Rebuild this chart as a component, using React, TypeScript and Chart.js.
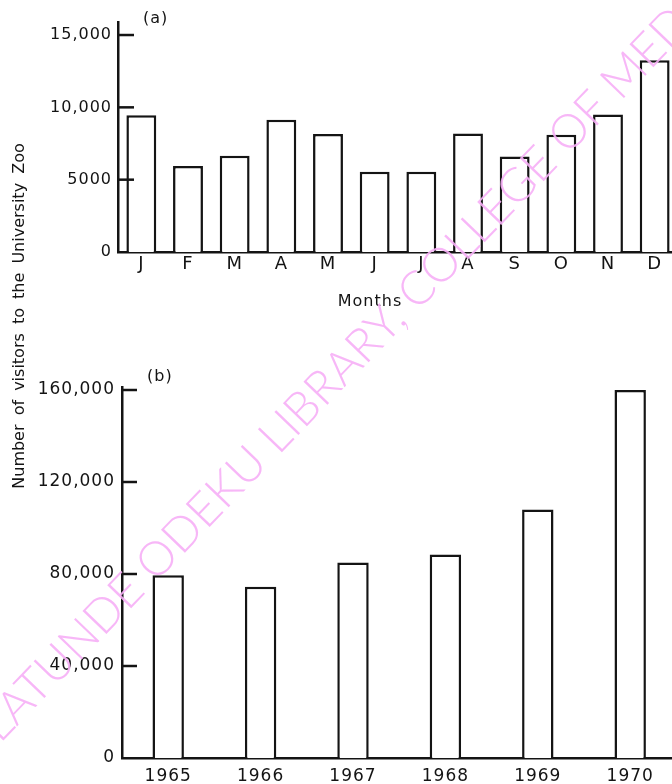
import React, { useEffect, useRef } from 'react';
import { Chart, registerables } from 'chart.js';

Chart.register(...registerables);

// ---- data ----
const months = ['J', 'F', 'M', 'A', 'M', 'J', 'J', 'A', 'S', 'O', 'N', 'D'];
const monthlyVisitors = [9450, 5950, 6650, 9150, 8150, 5550, 5550, 8200, 6600, 8100, 9500, 13250];
const monthTickValues = [0, 5000, 10000, 15000];
const monthTickLabels = ['0', '5000', '10,000', '15,000'];

const years = ['1965', '1966', '1967', '1968', '1969', '1970'];
const yearlyVisitors = [79500, 74500, 85000, 88500, 108000, 160000];
const yearTickValues = [0, 40000, 80000, 120000, 160000];
const yearTickLabels = ['0', '40,000', '80,000', '120,000', '160,000'];

const yAxisTitle = 'Number of visitors to the University Zoo';
const xAxisTitleTop = 'Months';
const panelA = '(a)';
const panelB = '(b)';
const watermark = 'LATUNDE ODEKU LIBRARY, COLLEGE OF MEDICINE';

const INK = '#141414';
const FONT = '"DejaVu Sans", sans-serif';

const decorPlugin = {
  id: 'decor',
  beforeDraw(chart: any) {
    try { chart.ctx.letterSpacing = '1px'; } catch (e) {}
  },
  afterDraw(chart: any, _args: any, opts: any) {
    const { ctx, chartArea } = chart;
    const y = chart.scales.y;
    ctx.save();
    ctx.strokeStyle = INK;
    ctx.lineWidth = 2.5;
    y.ticks.forEach((t: any) => {
      if (t.value === 0) return;
      const py = y.getPixelForValue(t.value);
      ctx.beginPath();
      ctx.moveTo(chartArea.left, py);
      ctx.lineTo(chartArea.left + opts.len, py);
      ctx.stroke();
    });
    (opts.texts || []).forEach((tx: any) => {
      ctx.font = tx.font;
      ctx.fillStyle = INK;
      ctx.textAlign = tx.align;
      ctx.textBaseline = 'middle';
      ctx.fillText(tx.text, tx.x, tx.y);
    });
    ctx.restore();
  },
};

function makeConfig(p: any): any {
  return {
    type: 'bar',
    data: {
      labels: p.labels,
      datasets: [
        {
          data: p.data,
          backgroundColor: '#ffffff',
          borderColor: INK,
          borderWidth: 2.5,
          barPercentage: p.barPct,
          categoryPercentage: 1,
        },
      ],
    },
    plugins: [decorPlugin],
    options: {
      animation: false,
      responsive: false,
      devicePixelRatio: 1,
      layout: { padding: p.padding },
      plugins: {
        legend: { display: false },
        tooltip: { enabled: false },
        decor: { len: p.tickLen, texts: p.texts },
      },
      scales: {
        x: {
          offset: true,
          grid: { display: false, drawTicks: false },
          border: { display: true, color: INK, width: 2.5 },
          ticks: {
            color: INK,
            padding: p.xPad,
            maxRotation: 0,
            autoSkip: false,
            font: { family: FONT, size: p.xFontSize },
          },
          afterFit: (s: any) => { s.height = p.xHeight; },
        },
        y: {
          min: 0,
          max: p.max,
          grid: { display: false, drawTicks: false },
          border: { display: true, color: INK, width: 2.5 },
          afterBuildTicks: (s: any) => { s.ticks = p.tickValues.map((v: number) => ({ value: v })); },
          afterFit: (s: any) => { s.width = p.yWidth; },
          ticks: {
            color: INK,
            padding: p.yPad,
            font: { family: FONT, size: p.yFontSize },
            callback: (v: any) => {
              const i = p.tickValues.indexOf(v);
              return i >= 0 ? p.tickLabels[i] : '';
            },
          },
        },
      },
    },
  };
}

export default function App() {
  const topRef = useRef<HTMLCanvasElement>(null);
  const botRef = useRef<HTMLCanvasElement>(null);

  useEffect(() => {
    const top = new Chart(topRef.current as HTMLCanvasElement, makeConfig({
      labels: months,
      data: monthlyVisitors,
      tickValues: monthTickValues,
      tickLabels: monthTickLabels,
      max: 15900,
      barPct: 0.64,
      padding: { top: 22, right: 12, bottom: 0, left: 0 },
      yWidth: 118,
      xHeight: 78,
      xPad: 2,
      yPad: 6,
      xFontSize: 18,
      yFontSize: 16,
      tickLen: 16,
      texts: [
        { text: panelA, x: 143, y: 19, align: 'left', font: `16px ${FONT}` },
        { text: xAxisTitleTop, x: 370, y: 302, align: 'center', font: `16px ${FONT}` },
      ],
    }));
    const bot = new Chart(botRef.current as HTMLCanvasElement, makeConfig({
      labels: years,
      data: yearlyVisitors,
      tickValues: yearTickValues,
      tickLabels: yearTickLabels,
      max: 161000,
      barPct: 0.34,
      padding: { top: 27.7, right: 13.6, bottom: 0, left: 0 },
      yWidth: 122,
      xHeight: 26,
      xPad: 8,
      yPad: 7,
      xFontSize: 17,
      yFontSize: 17,
      tickLen: 15,
      texts: [
        { text: panelB, x: 147, y: 17, align: 'left', font: `16px ${FONT}` },
      ],
    }));
    return () => { top.destroy(); bot.destroy(); };
  }, []);

  return (
    <div style={{ position: 'absolute', left: 0, top: 0, width: 672, height: 784, overflow: 'hidden', background: '#fff' }}>
      <canvas ref={topRef} width={690} height={330} style={{ position: 'absolute', left: 0, top: 0, width: 690, height: 330 }} />
      <canvas ref={botRef} width={690} height={424} style={{ position: 'absolute', left: 0, top: 360, width: 690, height: 424 }} />
      <div
        style={{
          position: 'absolute',
          left: 19,
          top: 316,
          transform: 'translate(-50%, -50%) rotate(-90deg)',
          whiteSpace: 'nowrap',
          fontFamily: FONT,
          fontSize: 16,
          wordSpacing: 4,
          color: INK,
          lineHeight: 1,
        }}
      >
        {yAxisTitle}
      </div>
      <svg width={672} height={784} style={{ position: 'absolute', left: 0, top: 0, pointerEvents: 'none' }}>
        <text
          x={0}
          y={0}
          transform="translate(0,744) rotate(-46)"
          fontFamily="Lato, 'Open Sans', sans-serif"
          fontWeight={300}
          fontSize={47}
          fill="#f7b0f7"
          opacity={0.9}
        >
          {watermark}
        </text>
      </svg>
    </div>
  );
}
